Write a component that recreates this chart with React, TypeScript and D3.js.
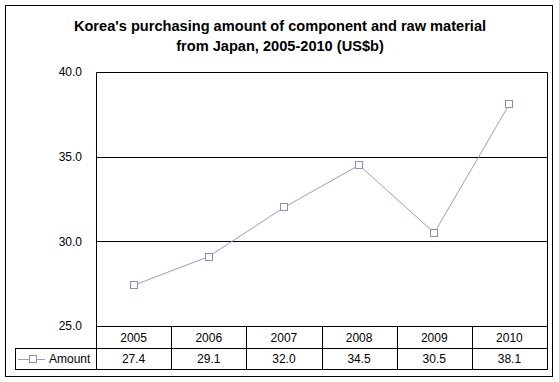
import React from "react";
import * as d3 from "d3";

const years = ["2005", "2006", "2007", "2008", "2009", "2010"];
const amounts = [27.4, 29.1, 32.0, 34.5, 30.5, 38.1];
const yTicks = [25, 30, 35, 40];
const seriesName = "Amount";
const titleLines = [
  "Korea's purchasing amount of component and raw material",
  "from Japan, 2005-2010 (US$b)",
];

const W = 559;
const H = 382;
const plotL = 96;
const plotR = 547;
const plotT = 72;
const plotB = 326;
const row1B = 348;
const row2B = 369;
const legendL = 15;
const font = "Arial, 'Liberation Sans', sans-serif";
const lineColor = "#9a9ad0";
const markColor = "#8c8cc8";
const fs = 12;

export default function App() {
  const x = d3.scaleBand<string>().domain(years).range([plotL, plotR]);
  const y = d3.scaleLinear().domain([25, 40]).range([plotB, plotT]);
  const line = d3
    .line<number>()
    .x((_, i) => (x(years[i]) as number) + x.bandwidth() / 2)
    .y((d) => y(d));

  return (
    <svg
      width={W}
      height={H}
      style={{ position: "absolute", left: 0, top: 0, background: "#fff" }}
      fontFamily={font}
    >
      <rect x={0} y={0} width={W} height={H} fill="#fff" />
      <rect x={5.5} y={5.5} width={547} height={371} fill="none" stroke="#000" strokeWidth={1} />
      {titleLines.map((t, i) => (
        <text key={i} x={280} y={31 + i * 20} textAnchor="middle" fontSize={14.6} fontWeight="bold">
          {t}
        </text>
      ))}
      {/* gridlines */}
      {yTicks.filter((t) => t > 25 && t < 40).map((t) => (
        <line key={t} x1={plotL} x2={plotR} y1={Math.round(y(t)) + 0.5} y2={Math.round(y(t)) + 0.5} stroke="#000" />
      ))}
      {/* plot border */}
      <path
        d={`M${plotL + 0.5},${plotB}V${plotT + 0.5}H${plotR + 0.5}V${plotB}`}
        fill="none"
        stroke="#000"
      />
      {/* y tick labels */}
      {yTicks.map((t) => (
        <text key={t} x={82} y={y(t)} dy="0.35em" textAnchor="end" fontSize={fs}>
          {t.toFixed(1)}
        </text>
      ))}
      {/* table */}
      <line x1={plotL} x2={plotR + 1} y1={plotB + 0.5} y2={plotB + 0.5} stroke="#000" />
      <line x1={legendL} x2={plotR + 1} y1={row1B + 0.5} y2={row1B + 0.5} stroke="#000" />
      <line x1={legendL} x2={plotR + 1} y1={row2B + 0.5} y2={row2B + 0.5} stroke="#000" />
      <line x1={legendL + 0.5} x2={legendL + 0.5} y1={row1B} y2={row2B + 1} stroke="#000" />
      {years.map((yr) => {
        const x0 = Math.round(x(yr) as number);
        return (
          <line key={"c" + yr} x1={x0 + 0.5} x2={x0 + 0.5} y1={plotB} y2={row2B + 1} stroke="#000" />
        );
      })}
      <line x1={plotR + 0.5} x2={plotR + 0.5} y1={plotB} y2={row2B + 1} stroke="#000" />
      {years.map((yr, i) => {
        const cx = (x(yr) as number) + x.bandwidth() / 2;
        return (
          <g key={"t" + yr}>
            <text x={cx} y={(plotB + row1B) / 2 + 0.5} dy="0.35em" textAnchor="middle" fontSize={fs}>
              {yr}
            </text>
            <text x={cx} y={(row1B + row2B) / 2 + 0.5} dy="0.35em" textAnchor="middle" fontSize={fs}>
              {amounts[i].toFixed(1)}
            </text>
          </g>
        );
      })}
      {/* legend cell */}
      <line x1={18} x2={45} y1={359.5} y2={359.5} stroke={lineColor} />
      <rect x={29.5} y={355.5} width={7} height={7} fill="#fff" stroke={markColor} />
      <text x={49} y={(row1B + row2B) / 2 + 0.5} dy="0.35em" fontSize={fs}>
        {seriesName}
      </text>
      {/* series */}
      <path d={line(amounts) || ""} fill="none" stroke={lineColor} strokeWidth={1} />
      {amounts.map((v, i) => {
        const cx = (x(years[i]) as number) + x.bandwidth() / 2;
        return (
          <rect
            key={"m" + i}
            x={Math.round(cx) - 3.5}
            y={Math.round(y(v)) - 3.5}
            width={7}
            height={7}
            fill="#fff"
            stroke={markColor}
          />
        );
      })}
    </svg>
  );
}
